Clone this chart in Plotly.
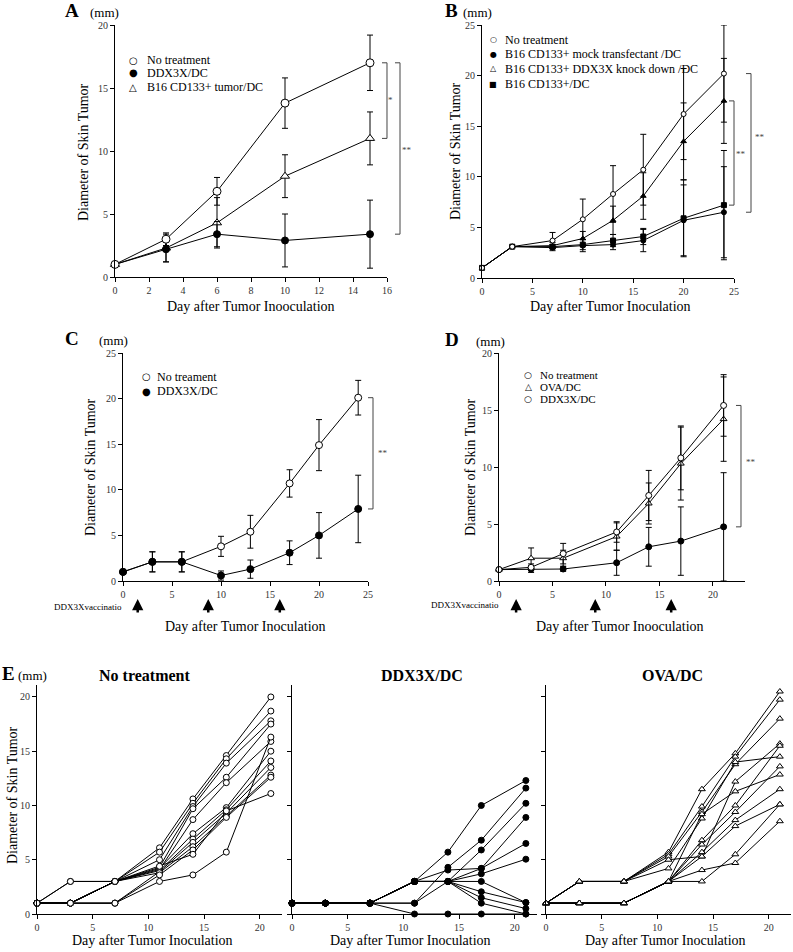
import plotly.graph_objects as go

W, H = 793, 952
FONT = "Liberation Serif, Times New Roman, serif"
SYMFONT = "DejaVu Sans"

# ---- panel A ----
a_days = [0, 3, 6, 10, 15]
a_none = [1, 3.0, 6.8, 13.8, 17.0]
a_none_err = [None, 0.5, 1.1, 2.0, 2.2]
a_ddx = [1, 2.2, 3.4, 2.9, 3.4]
a_ddx_err = [None, 1.0, 1.0, 2.1, 2.7]
a_b16 = [1, 2.3, 4.3, 8.0, 11.0]
a_b16_err = [None, 1.1, 2.0, 1.7, 2.1]
a_names = ["No treatment", "DDX3X/DC", "B16 CD133+ tumor/DC"]

# ---- panel B ----
b_days = [0, 3, 7, 10, 13, 16, 20, 24]
b_none = [1, 3.1, 3.7, 5.8, 8.3, 10.7, 16.2, 20.2]
b_none_err = [None, None, 0.8, 2.0, 2.8, 3.5, 4.5, 4.8]
b_mock = [1, 3.1, 3.0, 3.2, 3.3, 3.7, 5.7, 6.5]
b_mock_err = [None, None, 0.3, 0.6, 0.5, 1.1, 3.5, 4.5]
b_kd = [1, 3.1, 3.2, 3.9, 5.7, 8.1, 13.5, 17.5]
b_kd_err = [None, None, 0.3, 0.7, 1.4, 2.3, 3.8, 4.2]
b_cd = [1, 3.1, 3.1, 3.3, 3.7, 4.1, 5.9, 7.2]
b_cd_err = [None, None, 0.2, 0.5, 0.6, 0.8, 3.8, 5.4]
b_names = ["No treatment", "B16 CD133+ mock transfectant /DC",
           "B16 CD133+ DDX3X knock down /DC", "B16 CD133+/DC"]

# ---- panel C ----
c_days = [0, 3, 6, 10, 13, 17, 20, 24]
c_none = [1, 2.1, 2.1, 3.8, 5.4, 10.7, 14.9, 20.1]
c_none_err = [None, 1.1, 1.1, 1.1, 1.8, 1.5, 2.8, 1.9]
c_ddx = [1, 2.1, 2.1, 0.6, 1.3, 3.1, 5.0, 7.9]
c_ddx_err = [None, 1.1, 1.1, 0.5, 1.0, 1.3, 2.5, 3.7]
c_vacc = [1.5, 8.7, 16]
c_names = ["No treament", "DDX3X/DC"]

# ---- panel D ----
d_days = [0, 3, 6, 11, 14, 17, 21]
d_none = [1, 1.2, 2.4, 4.3, 7.5, 10.8, 15.4]
d_none_err = [None, 0.3, 0.9, 0.9, 2.2, 2.8, 2.7]
d_ova = [1, 2.0, 2.0, 3.9, 6.8, 10.3, 14.2]
d_ova_err = [None, 0.9, 0.7, 1.2, 1.8, 3.2, 3.7]
d_ddx = [1, 1.05, 1.05, 1.6, 3.0, 3.5, 4.75]
d_ddx_err = [None, 0.3, 0.2, 1.1, 1.7, 3.0, 4.75]
d_vacc = [1.6, 9, 16.1]
d_names = ["No treatment", "OVA/DC", "DDX3X/DC"]

# ---- panel E (individual mice) ----
e_days = [0, 3, 7, 11, 14, 17, 21]
e_none = [
    [1, 3, 3, 6.1, 10.6, 14.6, 20.0],
    [1, 3, 3, 5.7, 10.2, 14.3, 18.7],
    [1, 1, 3, 5.0, 9.9, 13.9, 17.8],
    [1, 1, 3, 4.3, 9.7, 12.6, 17.5],
    [1, 1, 3, 4.1, 8.7, 12.1, 15.9],
    [1, 1, 3, 4.2, 7.4, 9.8, 15.0],
    [1, 1, 3, 4.0, 6.9, 9.6, 14.1],
    [1, 1, 1, 3.9, 6.6, 9.3, 13.5],
    [1, 1, 3, 3.8, 6.2, 9.0, 12.8],
    [1, 1, 1, 3.6, 5.9, 8.9, 12.6],
    [1, 1, 3, 4.4, 5.5, 9.5, 11.1],
    [1, 1, 1, 3.0, 3.6, 5.7, 16.3],
]
e_ddx = [
    [1, 1, 1, 3, 5.7, 10.0, 12.3],
    [1, 1, 1, 1, 4.3, 6.8, 11.6],
    [1, 1, 1, 1, 3.0, 5.9, 10.2],
    [1, 1, 1, 3, 3.0, 4.2, 8.9],
    [1, 1, 1, 3, 4.05, 4.2, 6.5],
    [1, 1, 1, 3, 3.0, 3.7, 5.05],
    [1, 1, 1, 3, 3.0, 3.0, 1.05],
    [1, 1, 1, 3, 3.0, 2.05, 1.05],
    [1, 1, 1, 3, 3.0, 1.5, 0.5],
    [1, 1, 1, 3, 3.0, 1.0, 0],
    [1, 1, 1, 0, 0, 0, 0],
]
e_ova = [
    [1, 3, 3, 5.7, 11.5, 14.8, 20.5],
    [1, 3, 3, 5.5, 9.9, 14.5, 19.75],
    [1, 3, 3, 5.3, 9.4, 13.8, 18.0],
    [1, 3, 3, 4.2, 8.8, 14.0, 14.5],
    [1, 3, 3, 5.0, 5.3, 12.2, 15.7],
    [1, 1, 1, 3.0, 9.2, 11.3, 12.85],
    [1, 1, 1, 3.0, 6.8, 10.0, 15.5],
    [1, 1, 1, 3.0, 6.4, 9.4, 13.6],
    [1, 1, 1, 3.0, 5.7, 8.65, 11.5],
    [1, 1, 1, 3.0, 5.3, 8.1, 10.1],
    [1, 1, 1, 3.0, 4.05, 4.7, 8.55],
    [1, 1, 1, 3.0, 3.0, 5.5, 10.1],
]
e_titles = ["No treatment", "DDX3X/DC", "OVA/DC"]


def px(x):
    return x / W


def py(y):
    return 1 - y / H


def axis(dom, rng, dtick, vertical=False, labels=True, anchor=None):
    if vertical:
        d = [py(dom[1]), py(dom[0])]
    else:
        d = [px(dom[0]), px(dom[1])]
    return dict(domain=d, range=rng, dtick=dtick, tick0=0, anchor=anchor,
                automargin=False,
                showline=True, linecolor="black", linewidth=1,
                ticks="outside", ticklen=4, tickwidth=1, tickcolor="black",
                showgrid=False, zeroline=False, showticklabels=labels,
                tickfont=dict(family=FONT, size=10, color="#333"))


fig = go.Figure()


def series(n, x, y, err, symbol, color, size):
    ax = "" if n == 1 else str(n)
    fig.add_trace(go.Scatter(
        x=x, y=y, mode="lines+markers", xaxis="x" + ax, yaxis="y" + ax,
        line=dict(color="black", width=1),
        marker=dict(symbol=symbol, color=color, size=size,
                    line=dict(color="black", width=1)),
        error_y=dict(type="data", array=err, color="black", thickness=1, width=3)
        if err is not None else None,
        cliponaxis=False, showlegend=False, hoverinfo="skip"))


# A
series(1, a_days, a_b16, a_b16_err, "triangle-up", "white", 8)
series(1, a_days, a_ddx, a_ddx_err, "circle", "black", 7)
series(1, a_days, a_none, a_none_err, "circle", "white", 8)
# B
series(2, b_days, b_mock, b_mock_err, "circle", "black", 5)
series(2, b_days, b_cd, b_cd_err, "square", "black", 5)
series(2, b_days, b_kd, b_kd_err, "triangle-up", "black", 5)
series(2, b_days, b_none, b_none_err, "circle", "white", 5)
# C
series(3, c_days, c_none, c_none_err, "circle", "white", 7)
series(3, c_days, c_ddx, c_ddx_err, "circle", "black", 7)
# D
series(4, d_days, d_ddx, d_ddx_err, "circle", "black", 6)
series(4, d_days, d_ova, d_ova_err, "triangle-up", "white", 6)
series(4, d_days, d_none, d_none_err, "circle", "white", 6)
# E
for m in e_none:
    series(5, e_days, m, None, "circle", "white", 6)
for m in e_ddx:
    series(6, e_days, m, None, "circle", "black", 6)
for m in e_ova:
    series(7, e_days, m, None, "triangle-up", "white", 6)

ann = []


def text(t, x, y, size, bold=False, angle=0, color="black", xanchor="center",
         family=FONT):
    ann.append(dict(text="<b>%s</b>" % t if bold else t, x=px(x), y=py(y),
                    xref="paper", yref="paper", showarrow=False, textangle=angle,
                    xanchor=xanchor, yanchor="middle",
                    font=dict(family=family, size=size, color=color)))


# legends drawn as text (symbol glyph + label)
def legend(names, glyphs, gsize, sx, tx, ys, size=12):
    for name, g, y in zip(names, glyphs, ys):
        text(g, sx, y, gsize, family=SYMFONT)
        text(name, tx, y, size, xanchor="left")


legend(a_names, ["○", "●", "△"], 10, 133, 145, [60, 73, 87])
legend(b_names, ["○", "●", "△", "■"], 8, 493, 503, [40, 54, 69, 84])
legend(c_names, ["○", "●"], 10, 146, 155, [377, 391])
legend(d_names, ["○", "△", "○"], 9, 528, 538, [375, 387, 399], size=11)

# panel letters and units
for L, lx, mx, yy in [("A", 72, 105, 11), ("B", 451, 477, 11),
                      ("C", 72, 113, 338), ("D", 452, 490, 339), ("E", 8, 32, 673)]:
    text(L, lx, yy, 19, bold=True)
    text("(mm)", mx, yy + 2, 13)

# axis titles
for x, y in [(83, 152), (455, 151), (90, 467), (470, 467), (12, 795)]:
    text("Diameter of Skin Tumor", x, y, 14, angle=-90)
text("Day after Tumor Inooculation", 251, 307, 14)
text("Day after Tumor Inoculation", 610, 307, 14)
text("Day after Tumor Inoculation", 246, 626, 14)
text("Day after Tumor Inooculation", 620, 626, 14)
for x in [152, 410, 665]:
    text("Day after Tumor Inoculation", x, 940, 14)

text("DDX3Xvaccinatio", 88, 607, 9)
text("DDX3Xvaccinatio", 465, 605, 9)

for t, x in zip(e_titles, [144, 422, 672]):
    text(t, x, 675, 16, bold=True)

# vaccination arrows
for xr, days in [("x3", c_vacc), ("x4", d_vacc)]:
    for d in days:
        ann.append(dict(text="", x=d, xref=xr, y=py(599), yref="paper",
                        showarrow=True, ax=0, ay=15, arrowhead=2, arrowsize=0.9,
                        arrowwidth=2.5, arrowcolor="black"))

# significance brackets
shapes = []


def bracket(xp, yref, y1, y2, label, lx, ly):
    path = "M %f,%f L %f,%f L %f,%f L %f,%f" % (
        px(xp - 5), y1, px(xp), y1, px(xp), y2, px(xp - 5), y2)
    shapes.append(dict(type="path", path=path, xref="paper", yref=yref,
                       line=dict(color="#444", width=1)))
    text(label, lx, ly, 9, color="#444")


bracket(387, "y", a_none[-1], a_b16[-1], "*", 390, 100)
bracket(400, "y", a_none[-1], a_ddx[-1], "**", 407, 150)
bracket(734, "y2", b_kd[-1], b_cd[-1], "**", 741, 154)
bracket(751, "y2", b_none[-1], b_mock[-1], "**", 760, 137)
bracket(373, "y3", c_none[-1], c_ddx[-1], "**", 383, 453)
bracket(741, "y4", d_none[-1], d_ddx[-1], "**", 751, 462)

fig.update_layout(
    width=W, height=H, margin=dict(l=0, r=0, t=0, b=0, autoexpand=False),
    paper_bgcolor="white", plot_bgcolor="white", showlegend=False,
    xaxis=axis((115, 387), [0, 16], 2, anchor="y"),
    yaxis=axis((25, 277), [0, 20], 5, vertical=True, anchor="x"),
    xaxis2=axis((482, 734), [0, 25], 5, anchor="y2"),
    yaxis2=axis((25, 278), [0, 25], 5, vertical=True, anchor="x2"),
    xaxis3=axis((123, 368), [0, 25], 5, anchor="y3"),
    yaxis3=axis((353, 581), [0, 25], 5, vertical=True, anchor="x3"),
    xaxis4=axis((499, 745), [0, 23], 5, anchor="y4"),
    yaxis4=axis((353, 581), [0, 20], 5, vertical=True, anchor="x4"),
    xaxis5=axis((37, 282), [0, 22], 5, anchor="y5"),
    yaxis5=axis((685, 914), [0, 21.1], 5, vertical=True, anchor="x5"),
    xaxis6=axis((292, 537), [0, 22], 5, anchor="y6"),
    yaxis6=axis((685, 914), [0, 21.1], 5, vertical=True, labels=False, anchor="x6"),
    xaxis7=axis((546, 791), [0, 22], 5, anchor="y7"),
    yaxis7=axis((685, 914), [0, 21.1], 5, vertical=True, labels=False, anchor="x7"),
    annotations=ann, shapes=shapes,
    font=dict(family=FONT),
)

# pin the figure to the top-left corner of the page, no margins or scrollbars
pin = ("var d=document.getElementById('{plot_id}');"
       "d.style.position='absolute';d.style.left='0px';d.style.top='0px';"
       "document.body.style.margin='0px';document.body.style.overflow='hidden';"
       "document.documentElement.style.overflow='hidden';")
fig.write_html("out.html", post_script=pin, config={"displayModeBar": False})
